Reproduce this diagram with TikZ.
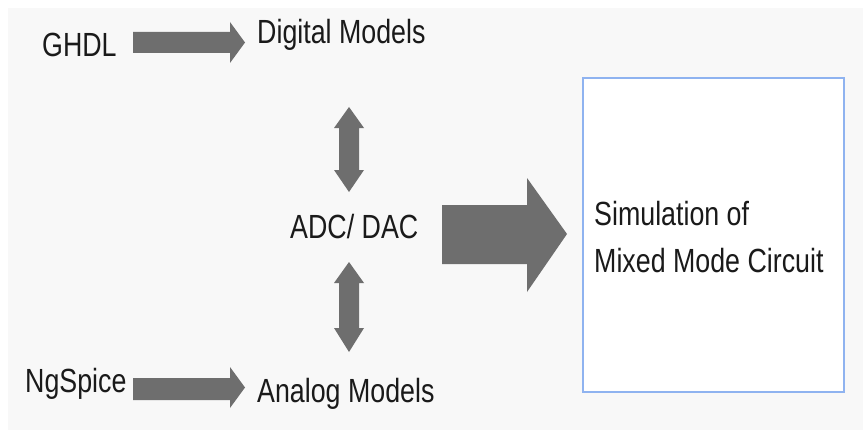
\documentclass[tikz,border=0pt]{standalone}
\usepackage{fontspec}
\setmainfont[FakeStretch=0.8]{Liberation Sans}
\definecolor{bggray}{HTML}{F8F8F8}
\definecolor{arrgray}{HTML}{6E6E6E}
\definecolor{txt}{HTML}{1A1A1A}
\definecolor{boxblue}{HTML}{8FB3F0}
\tikzset{
  lbl/.style={anchor=base west, inner sep=0pt, text=txt, font=\fontsize{33.5}{40}\selectfont},
  blockarrow/.style={fill=arrgray, draw=none},
  simbox/.style={draw=boxblue, line width=1.5pt, fill=white}
}
\begin{document}
\begin{tikzpicture}[x=1pt,y=-1pt]
\useasboundingbox (0,0) rectangle (863,436);
\fill[white] (0,0) rectangle (863,436);
\fill[bggray] (8,8) rectangle (863,430);
% simulation box
\draw[simbox] (583,78) rectangle (844,392);
% texts
\node[lbl] (ghdl) at (42,57) {GHDL};
\node[lbl] (digital) at (257,44) {Digital Models};
\node[lbl] (adc) at (290,238) {ADC/ DAC};
\node[lbl] (ngspice) at (25,392) {NgSpice};
\node[lbl] (analog) at (257,402) {Analog Models};
\node[lbl] (sim1) at (594,225) {Simulation of};
\node[lbl] (sim2) at (594,272) {Mixed Mode Circuit};
% GHDL -> Digital Models
\fill[blockarrow] (133,32) -- (230,32) -- (230,22) -- (245,42.5) -- (230,63) -- (230,53) -- (133,53) -- cycle;
% NgSpice -> Analog Models
\fill[blockarrow] (133,378) -- (230,378) -- (230,367) -- (245,387.5) -- (230,408) -- (230,400) -- (133,400) -- cycle;
% Digital <-> ADC
\fill[blockarrow] (349,107) -- (364,128) -- (359,128) -- (359,170) -- (364,170) -- (349,192) -- (334,170) -- (339,170) -- (339,128) -- (334,128) -- cycle;
% ADC <-> Analog
\fill[blockarrow] (349,262) -- (364,283) -- (359,283) -- (359,328) -- (364,328) -- (349,352) -- (334,328) -- (339,328) -- (339,283) -- (334,283) -- cycle;
% ADC -> Simulation
\fill[blockarrow] (442,205) -- (527,205) -- (527,178) -- (567,234) -- (527,292) -- (527,264) -- (442,264) -- cycle;
\end{tikzpicture}
\end{document}
